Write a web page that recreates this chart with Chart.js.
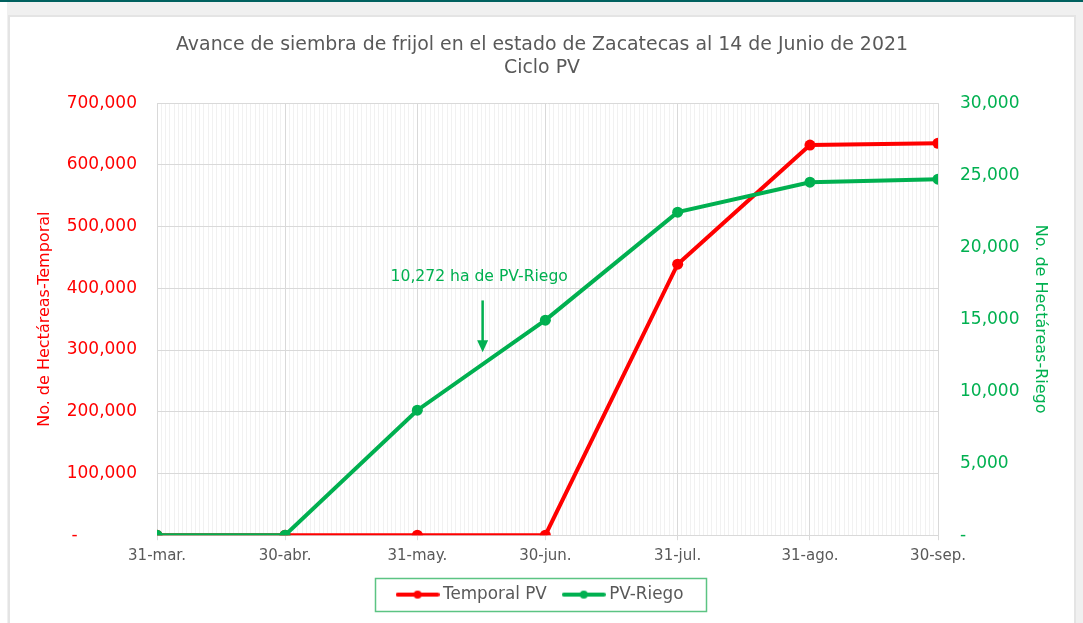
<!DOCTYPE html>
<html>
<head>
<meta charset="utf-8">
<script src="https://cdn.jsdelivr.net/npm/chart.js@4.4.0/dist/chart.umd.min.js"></script>
<style>
  html, body { margin: 0; padding: 0; background: #fff; }
  .topbar { height: 2px; background: #00615f; }
  .panel { position: absolute; left: 7px; top: 2px; right: 0; bottom: 0; background: #f0f0f0; }
  .card { position: absolute; left: 1px; top: 13px; width: 1064px; height: 620px; background: #fff; border: 2px solid #e4e4e4; border-bottom: none; }
  #chart { position: absolute; left: 0; top: 0; }
</style>
</head>
<body>
<div class="topbar"></div>
<div class="panel">
  <div class="card">
    <canvas id="chart" width="1064" height="606"></canvas>
  </div>
</div>
<script>
// data
const dateLabels = ['31-mar.', '30-abr.', '31-may.', '30-jun.', '31-jul.', '31-ago.', '30-sep.'];
const dayOffsets = [0, 30, 61, 91, 122, 153, 183];
const temporalPV = [0, 0, 0, 0, 439000, 632000, 635000];
const pvRiego = [0, 0, 8680, 14930, 22430, 24510, 24720];
const leftTicks = [0, 100000, 200000, 300000, 400000, 500000, 600000, 700000];
const rightTicks = [0, 5000, 10000, 15000, 20000, 25000, 30000];

const RED = '#ff0000';
const GREEN = '#00b050';
const GREY_TEXT = '#595959';
const FONT = "'DejaVu Sans', sans-serif";

const fmt = (v) => v === 0 ? '-' : v.toLocaleString('en-US');

// legend icon: line with a dot
const legendIcon = (color) => {
    const c = document.createElement('canvas');
    c.width = 44; c.height = 10;
    const g = c.getContext('2d');
    g.strokeStyle = color; g.lineWidth = 4; g.lineCap = 'round';
    g.beginPath(); g.moveTo(2, 5); g.lineTo(42, 5); g.stroke();
    g.fillStyle = color;
    g.beginPath(); g.arc(22, 5, 4, 0, Math.PI * 2); g.fill();
    return c;
};

// border round the legend items
const legendBox = {
    id: 'legendBox',
    afterDraw(chart) {
        const boxes = chart.legend.legendHitBoxes;
        if (!boxes || !boxes.length) return;
        const left = Math.min(...boxes.map(b => b.left)) - 26;
        const right = Math.max(...boxes.map(b => b.left + b.width)) + 22;
        const mid = boxes[0].top + boxes[0].height / 2;
        const g = chart.ctx;
        g.save();
        g.strokeStyle = '#5cc483';
        g.lineWidth = 1.5;
        g.strokeRect(Math.round(left) + 0.5, Math.round(mid - 16.5) + 0.5, Math.round(right - left), 33);
        g.restore();
    }
};

// note with arrow
const note = {
    id: 'note',
    afterDatasetsDraw(chart) {
        const x = chart.scales.x;
        const y1 = chart.scales.y1;
        const g = chart.ctx;
        g.save();
        g.fillStyle = GREEN;
        g.strokeStyle = GREEN;
        g.font = '15.6px ' + FONT;
        g.textAlign = 'center';
        g.textBaseline = 'middle';
        g.fillText('10,272 ha de PV-Riego', x.getPixelForValue(75.5), y1.getPixelForValue(17900));
        const ax = x.getPixelForValue(76.3);
        const top = y1.getPixelForValue(16300);
        const tip = y1.getPixelForValue(12700);
        g.lineWidth = 2.5;
        g.beginPath(); g.moveTo(ax, top); g.lineTo(ax, tip - 8); g.stroke();
        g.beginPath(); g.moveTo(ax - 5.5, tip - 12); g.lineTo(ax + 5.5, tip - 12); g.lineTo(ax, tip); g.closePath(); g.fill();
        g.restore();
    }
};

const allDays = [];
for (let d = 0; d <= 183; d++) allDays.push(d);

new Chart(document.querySelector('#chart'), {
    type: 'line',
    data: {
        datasets: [{
            label: 'Temporal PV',
            data: temporalPV.map((v, i) => ({x: dayOffsets[i], y: v})),
            borderColor: RED,
            backgroundColor: RED,
            borderWidth: 4,
            pointRadius: 5.5,
            pointBorderWidth: 0,
            pointHoverRadius: 5.5,
            order: 1,
            yAxisID: 'y'
        }, {
            label: 'PV-Riego',
            data: pvRiego.map((v, i) => ({x: dayOffsets[i], y: v})),
            borderColor: GREEN,
            backgroundColor: GREEN,
            borderWidth: 4,
            pointRadius: 5.5,
            pointBorderWidth: 0,
            pointHoverRadius: 5.5,
            order: 0,
            yAxisID: 'y1'
        }]
    },
    options: {
        animation: false,
        responsive: false,
        layout: { padding: { left: 10, right: 10, top: 0, bottom: 10 } },
        plugins: {
            title: {
                display: true,
                text: ['Avance de siembra de frijol en el estado de Zacatecas al 14 de Junio de 2021', 'Ciclo PV'],
                color: GREY_TEXT,
                font: { family: FONT, size: 18.9, weight: 'normal', lineHeight: 1.22 },
                padding: { top: 16.5, bottom: 23.5 }
            },
            legend: {
                position: 'bottom',
                labels: {
                    color: GREY_TEXT,
                    font: { family: FONT, size: 16.8 },
                    usePointStyle: true,
                    pointStyleWidth: 34,
                    padding: 20,
                    generateLabels: (chart) => chart.data.datasets.map((ds, i) => ({
                        text: ds.label,
                        pointStyle: legendIcon(ds.borderColor),
                        fontColor: GREY_TEXT,
                        datasetIndex: i,
                        lineWidth: 0
                    }))
                }
            },
            tooltip: { enabled: false }
        },
        scales: {
            x: {
                type: 'linear',
                min: 0,
                max: 183,
                afterBuildTicks: (axis) => { axis.ticks = allDays.map(v => ({value: v})); },
                afterFit: (axis) => { axis.height = 31; },
                ticks: {
                    autoSkip: false,
                    maxRotation: 0,
                    color: GREY_TEXT,
                    font: { family: FONT, size: 15 },
                    padding: 7,
                    callback: (v) => {
                        const i = dayOffsets.indexOf(v);
                        return i >= 0 ? dateLabels[i] : '';
                    }
                },
                grid: {
                    color: (c) => dayOffsets.includes(c.tick && c.tick.value) ? '#d9d9d9' : '#f1f1f1',
                    tickColor: (c) => dayOffsets.includes(c.tick && c.tick.value) ? '#d9d9d9' : 'rgba(0,0,0,0)',
                    tickLength: 5
                },
                border: { color: '#d9d9d9' }
            },
            y: {
                position: 'left',
                min: 0,
                max: 700000,
                afterBuildTicks: (axis) => { axis.ticks = leftTicks.map(v => ({value: v})); },
                afterFit: (axis) => { axis.width = 137; },
                ticks: {
                    color: RED,
                    font: { family: FONT, size: 17 },
                    padding: 20,
                    callback: (v) => v === 0 ? '-\u2007\u2007\u2007\u2007\u2007\u2008' : fmt(v)
                },
                grid: { color: '#d9d9d9', drawTicks: false },
                border: { display: false },
                title: {
                    display: true,
                    text: 'No. de Hectáreas-Temporal',
                    color: RED,
                    font: { family: FONT, size: 16 },
                    padding: { top: 15, bottom: 0 }
                }
            },
            y1: {
                position: 'right',
                min: 0,
                max: 30000,
                afterBuildTicks: (axis) => { axis.ticks = rightTicks.map(v => ({value: v})); },
                afterFit: (axis) => { axis.width = 126; },
                ticks: {
                    color: GREEN,
                    font: { family: FONT, size: 17 },
                    padding: 22,
                    callback: (v) => fmt(v)
                },
                grid: { drawOnChartArea: false, drawTicks: false },
                border: { display: false },
                title: {
                    display: true,
                    text: 'No. de Hectáreas-Riego',
                    color: GREEN,
                    font: { family: FONT, size: 16 },
                    padding: { top: 14, bottom: 0 }
                }
            }
        }
    },
    plugins: [legendBox, note]
});
</script>
</body>
</html>
